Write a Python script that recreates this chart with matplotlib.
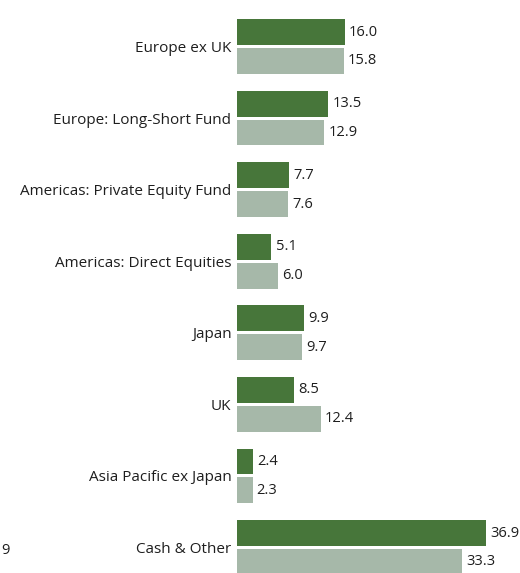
import matplotlib
matplotlib.use("Agg")
import matplotlib.pyplot as plt
import numpy as np

categories = [
    "Europe ex UK",
    "Europe: Long-Short Fund",
    "Americas: Private Equity Fund",
    "Americas: Direct Equities",
    "Japan",
    "UK",
    "Asia Pacific ex Japan",
    "Cash & Other",
]
current = [16.0, 13.5, 7.7, 5.1, 9.9, 8.5, 2.4, 36.9]
previous = [15.8, 12.9, 7.6, 6.0, 9.7, 12.4, 2.3, 33.3]
stray_text = "9"

plt.rcParams["font.family"] = ["Open Sans", "DejaVu Sans"]

dark_green = "#47763a"
light_green = "#a6b8a9"
text_color = "#1e1e1e"

figure = plt.figure(figsize=(5.2, 5.73), dpi=100)
axis = figure.add_axes([237 / 520, 0, 270 / 520, 1])

positions = np.arange(len(categories))
offset = 0.202
height = 0.362

bars_1 = axis.barh(positions - offset, current, height=height, color=dark_green)
bars_2 = axis.barh(positions + offset, previous, height=height, color=light_green)

axis.bar_label(bars_1, fmt="%.1f", padding=3, fontsize=10.5, color=text_color)
axis.bar_label(bars_2, fmt="%.1f", padding=3, fontsize=10.5, color=text_color)

axis.set_xlim(0, 40)
axis.set_ylim(7 + 25.5 / 71.57, -46.5 / 71.57)

axis.set_yticks(positions)
axis.set_yticklabels(categories, fontsize=11, color=text_color)
axis.tick_params(axis="y", length=0, pad=4)
axis.set_xticks([])
for spine in axis.spines.values():
    spine.set_visible(False)

# cropped fragment from the source picture
figure.text(1 / 520, 1 - 551 / 573, stray_text, ha="left", va="center",
            fontsize=10.5, color=text_color)

figure.savefig("out.png", dpi=100)
